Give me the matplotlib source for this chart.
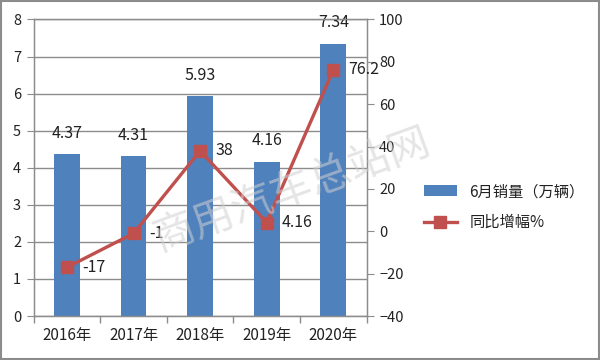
import numpy as np
import matplotlib.pyplot as plt
from matplotlib.patches import Rectangle

plt.rcParams['font.family'] = ['Noto Sans CJK SC', 'DejaVu Sans']

years = ['2016年', '2017年', '2018年', '2019年', '2020年']
sales = [4.37, 4.31, 5.93, 4.16, 7.34]
growth = [-17, -1, 38, 4.16, 76.2]
growth_labels = ['-17', '-1', '38', '4.16', '76.2']

bar_color = '#4F81BD'
line_color = '#C0504D'
grid_color = '#8C8C8C'
text_color = '#222222'

fig = plt.figure(figsize=(6, 3.6), dpi=100)
ax = fig.add_axes([0.056, 0.122, 0.555, 0.824])
x = np.arange(len(years))

bars = ax.bar(x, sales, width=0.39, color=bar_color, label='6月销量（万辆）', zorder=2)
for xi, v in zip(x, sales):
    ax.annotate(f'{v:.2f}', (xi, v), xytext=(0, 9), textcoords='offset points',
                ha='center', va='bottom', fontsize=11.5, color=text_color)

ax.set_xlim(-0.5, 4.5)
ax.set_ylim(0, 8)
ax.set_yticks(range(0, 9))
ax.set_xticks(x)
ax.set_xticklabels(years, fontsize=11, color=text_color)
ax.set_xticks(np.arange(-0.5, 5, 1), minor=True)
ax.tick_params(axis='x', which='major', length=0, pad=8)
ax.tick_params(axis='x', which='minor', length=5, color=grid_color, width=1)
ax.tick_params(axis='y', length=5, color=grid_color, labelsize=10.5, labelcolor=text_color, pad=4)
ax.grid(axis='y', color=grid_color, linewidth=1, zorder=0)
ax.set_axisbelow(True)
for s in ['left', 'bottom', 'top', 'right']:
    ax.spines[s].set_color(grid_color)
    ax.spines[s].set_linewidth(1)

ax2 = ax.twinx()
line, = ax2.plot(x, growth, color=line_color, linewidth=2.4, marker='s',
                 markersize=9, label='同比增幅%', zorder=3)
for xi, v, lab in zip(x, growth, growth_labels):
    ax2.annotate(lab, (xi, v), xytext=(11, 0), textcoords='offset points',
                 ha='left', va='center', fontsize=11.5, color=text_color)
ax2.set_ylim(-40, 100)
ax2.set_yticks(range(-40, 101, 20))
ax2.tick_params(axis='y', length=5, color=grid_color, labelsize=10.5, labelcolor=text_color, pad=4)
for s in ['left', 'bottom', 'top', 'right']:
    ax2.spines[s].set_color(grid_color)

# watermark
fig.text(0.487, 0.47, '商用汽车总站网', rotation=20, fontsize=30, color='#D0D0D0',
         alpha=0.55, ha='center', va='center')

handles = [bars, line]
fig.legend(handles, [h.get_label() for h in handles], loc='center left',
           bbox_to_anchor=(0.683, 0.425), frameon=False, fontsize=11,
           handlelength=2.2, labelspacing=0.9, labelcolor=text_color)

fig.add_artist(Rectangle((0.002, 0.003), 0.996, 0.994, transform=fig.transFigure,
                         fill=False, edgecolor='#8C8C8C', linewidth=1.5))

fig.savefig('out.png', dpi=100)
